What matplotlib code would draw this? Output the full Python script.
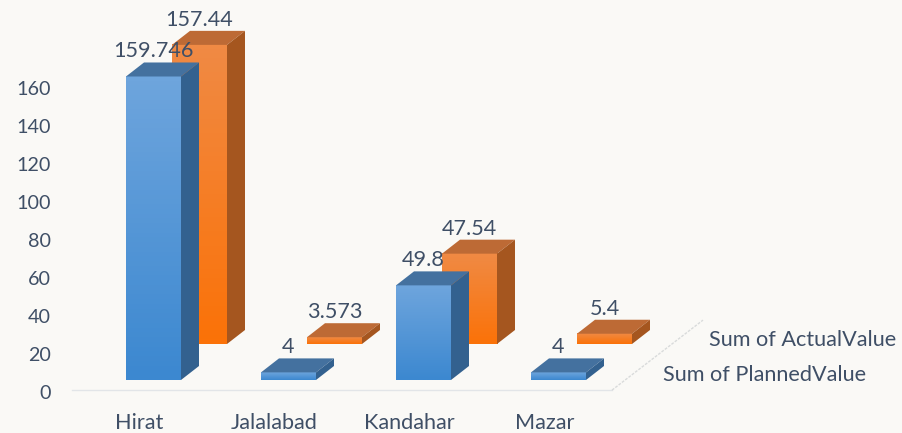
import numpy as np
import matplotlib
matplotlib.use("Agg")
import matplotlib.pyplot as plt
from matplotlib.colors import LinearSegmentedColormap

categories = ['Hirat', 'Jalalabad', 'Kandahar', 'Mazar']
planned_values = [159.746, 4, 49.8, 4]
actual_values = [157.44, 3.573, 47.54, 5.4]
planned_labels = ['159.746', '4', '49.8', '4']
actual_labels = ['157.44', '3.573', '47.54', '5.4']
series_names = ['Sum of PlannedValue', 'Sum of ActualValue']
y_ticks = [0, 20, 40, 60, 80, 100, 120, 140, 160]

BG = '#faf9f6'
TEXT = '#3f4f66'
W, H = 902, 433
# pixels of the plot area
LEFT, RIGHT, BOTTOM, TOP = 72, 612, 392, 88

plt.rcParams['font.family'] = ['Lato', 'DejaVu Sans']
fig = plt.figure(figsize=(W / 100, H / 100), dpi=100, facecolor=BG)
ax = fig.add_axes([LEFT / W, 1 - BOTTOM / H, (RIGHT - LEFT) / W, (BOTTOM - TOP) / H], facecolor='none')

# pixel sizes turned into data units
ux = 4 / (RIGHT - LEFT)
uy = 160 / (BOTTOM - TOP)
bar_w = 55 * ux
depth_x = 18 * ux
depth_y = 14 * uy


def draw_series(values, labels, shift_x, shift_y, z, top_c, side_c, front_colors):
    cmap = LinearSegmentedColormap.from_list('front', front_colors)
    grad = np.linspace(0, 1, 64).reshape(-1, 1)
    for i, v in enumerate(values):
        x0 = i + shift_x
        y0 = shift_y
        y1 = y0 + v
        ax.imshow(grad, cmap=cmap, extent=(x0, x0 + bar_w, y0, y1), origin='upper',
                  aspect='auto', zorder=z, clip_on=False)
        ax.fill([x0, x0 + bar_w, x0 + bar_w + depth_x, x0 + depth_x],
                [y1, y1, y1 + depth_y, y1 + depth_y], color=top_c, lw=0, zorder=z, clip_on=False)
        ax.fill([x0 + bar_w, x0 + bar_w + depth_x, x0 + bar_w + depth_x, x0 + bar_w],
                [y0, y0 + depth_y, y1 + depth_y, y1], color=side_c, lw=0, zorder=z, clip_on=False)
        ax.text(x0 + bar_w / 2, y1 + 25 * uy, labels[i], ha='center', va='center',
                fontsize=15.6, color=TEXT, zorder=8, clip_on=False)


# back row first so the planned bars sit in front of it
draw_series(actual_values, actual_labels, -0.1 + 46 * ux, 48 * uy, 3, '#bd6a35', '#a5561f',
            ['#f08a44', '#fb7208'])
draw_series(planned_values, planned_labels, -0.1, 12 * uy, 5, '#44719f', '#33618f',
            ['#6ea5dd', '#3c88d0'])
ax.set_xlim(-0.5, 3.5)
ax.set_ylim(0, 160)

# floor lines
ax.plot([-0.5, 3.5], [1, 1], color='#e2e5e8', lw=1, zorder=1, clip_on=False)
ax.plot([3.5, 3.5 + 91 * ux], [1, 1 + 70 * uy], color='#d9dbdb', lw=1, ls=(0, (2, 1)), zorder=1, clip_on=False)

# series names on the depth axis
ax.text(3.5 + 51 * ux, 17 * uy, series_names[0], ha='left', va='center', fontsize=15.6, color=TEXT, clip_on=False)
ax.text(3.5 + 97 * ux, 52 * uy, series_names[1], ha='left', va='center', fontsize=15.6, color=TEXT, clip_on=False)

ax.set_xticks(range(len(categories)))
ax.set_xticklabels(categories, fontsize=15.6, color=TEXT)
ax.set_yticks(y_ticks)
ax.set_yticklabels([str(t) for t in y_ticks], fontsize=14.2, color=TEXT)
ax.tick_params(axis='x', length=0, pad=15)
ax.tick_params(axis='y', length=0, pad=15)
for s in ax.spines.values():
    s.set_visible(False)

fig.savefig('out.png', dpi=100, facecolor=BG)
